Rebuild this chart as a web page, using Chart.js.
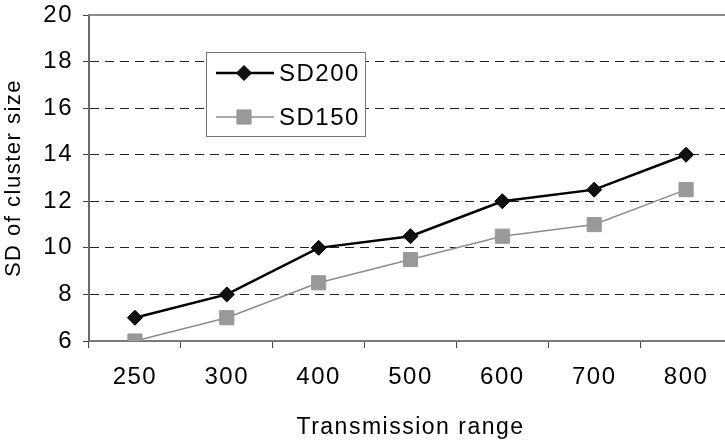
<!DOCTYPE html>
<html>
<head>
<meta charset="utf-8">
<script src="https://cdn.jsdelivr.net/npm/chart.js@4/dist/chart.umd.min.js"></script>
<style>
  html, body { margin: 0; padding: 0; background: #fff; overflow: hidden; }
  #chart { display: block; }
</style>
</head>
<body>
<canvas id="chart" width="743" height="441"></canvas>
<script>
// Transmission range categories and standard deviation of cluster size
const categories = ['250', '300', '400', '500', '600', '700', '800'];
const sd200 = [7, 8, 10, 10.5, 12, 12.5, 14];
const sd150 = [6, 7, 8.5, 9.5, 10.5, 11, 12.5];
const yTicks = [6, 8, 10, 12, 14, 16, 18, 20];

const FONT = '"Liberation Sans", Arial, Helvetica, sans-serif';

// Slightly wider letter spacing for all chart text
const spacingPlugin = {
  id: 'spacing',
  beforeInit(chart) { chart.ctx.letterSpacing = '1.5px'; },
  beforeDraw(chart) { chart.ctx.letterSpacing = '1.5px'; }
};

// Grey frame line along the top of the plot area
const topFrame = {
  id: 'topFrame',
  beforeDatasetsDraw(chart) {
    const { ctx, chartArea } = chart;
    ctx.save();
    ctx.strokeStyle = '#8a8a8a';
    ctx.lineWidth = 2;
    ctx.beginPath();
    ctx.moveTo(chartArea.left, chartArea.top);
    ctx.lineTo(chartArea.right, chartArea.top);
    ctx.stroke();
    ctx.restore();
  }
};

// Boxed legend inside the plot area
const boxLegend = {
  id: 'boxLegend',
  afterDraw(chart) {
    const { ctx } = chart;
    const x0 = 206, y0 = 52, w = 159, h = 84;
    ctx.save();
    ctx.fillStyle = '#fff';
    ctx.fillRect(x0, y0, w, h);
    ctx.strokeStyle = '#777';
    ctx.lineWidth = 1;
    ctx.strokeRect(x0 + 0.5, y0 + 0.5, w, h);
    const rows = [73, 117];
    chart.data.datasets.forEach((ds, i) => {
      const y = rows[i];
      ctx.strokeStyle = ds.borderColor;
      ctx.lineWidth = ds.borderWidth;
      ctx.setLineDash([]);
      ctx.beginPath();
      ctx.moveTo(216, y);
      ctx.lineTo(274, y);
      ctx.stroke();
      ctx.fillStyle = ds.pointBackgroundColor;
      ctx.strokeStyle = ds.pointBorderColor;
      ctx.lineWidth = 1;
      Chart.helpers.drawPoint(ctx, {
        pointStyle: ds.pointStyle,
        radius: ds.pointRadius,
        borderWidth: 1,
        rotation: 0
      }, 244, y);
      ctx.letterSpacing = '1.5px';
      ctx.fillStyle = '#000';
      ctx.font = '24px ' + FONT;
      ctx.textBaseline = 'middle';
      ctx.textAlign = 'left';
      ctx.fillText(ds.label, 279, y + 1);
    });
    ctx.restore();
  }
};

new Chart(document.getElementById('chart'), {
  type: 'line',
  data: {
    labels: categories,
    datasets: [
      {
        label: 'SD200',
        data: sd200,
        borderColor: '#000',
        borderWidth: 2.5,
        pointStyle: 'rectRot',
        pointRadius: 7.5,
        pointBackgroundColor: '#111',
        pointBorderColor: '#000',
        pointBorderWidth: 1,
        tension: 0
      },
      {
        label: 'SD150',
        data: sd150,
        borderColor: '#8c8c8c',
        borderWidth: 1.5,
        pointStyle: 'rect',
        pointRadius: 10,
        pointBackgroundColor: '#999',
        pointBorderColor: '#999',
        pointBorderWidth: 1,
        tension: 0
      }
    ]
  },
  options: {
    responsive: false,
    animation: false,
    events: [],
    layout: { padding: { top: 15, right: 0, left: 0, bottom: 0 } },
    plugins: {
      legend: { display: false },
      tooltip: { enabled: false }
    },
    scales: {
      x: {
        type: 'category',
        offset: true,
        afterFit(scale) {
          scale.height = 100;
        },
        grid: {
          offset: true,
          drawOnChartArea: false,
          drawTicks: true,
          tickLength: 7,
          tickColor: '#444',
          tickWidth: 1
        },
        border: { display: true, color: '#7a7a7a', width: 2 },
        ticks: {
          color: '#000',
          padding: 15,
          maxRotation: 0,
          font: { family: FONT, size: 24 }
        },
        title: {
          display: true,
          text: 'Transmission range',
          color: '#000',
          padding: { top: 0, bottom: 0 },
          font: { family: FONT, size: 23 }
        }
      },
      y: {
        min: 6,
        max: 20,
        afterFit(scale) {
          scale.width = 89;
          scale.paddingTop = 0;
          scale.paddingBottom = 0;
        },
        afterBuildTicks(scale) { scale.ticks = yTicks.map(v => ({ value: v })); },
        grid: {
          color: ctx => (ctx.tick && (ctx.tick.value === 6 || ctx.tick.value === 20)) ? 'rgba(0,0,0,0)' : '#222',
          lineWidth: 1,
          drawTicks: true,
          tickLength: 6,
          tickColor: '#444',
          tickWidth: 1
        },
        border: { display: true, color: '#6a6a6a', width: 2, dash: [9, 6] },
        ticks: {
          color: '#000',
          padding: 10,
          font: { family: FONT, size: 24 }
        },
        title: {
          display: true,
          text: 'SD of cluster size',
          color: '#000',
          padding: { top: 1, bottom: 0 },
          font: { family: FONT, size: 22 }
        }
      }
    }
  },
  plugins: [spacingPlugin, topFrame, boxLegend]
});
</script>
</body>
</html>
